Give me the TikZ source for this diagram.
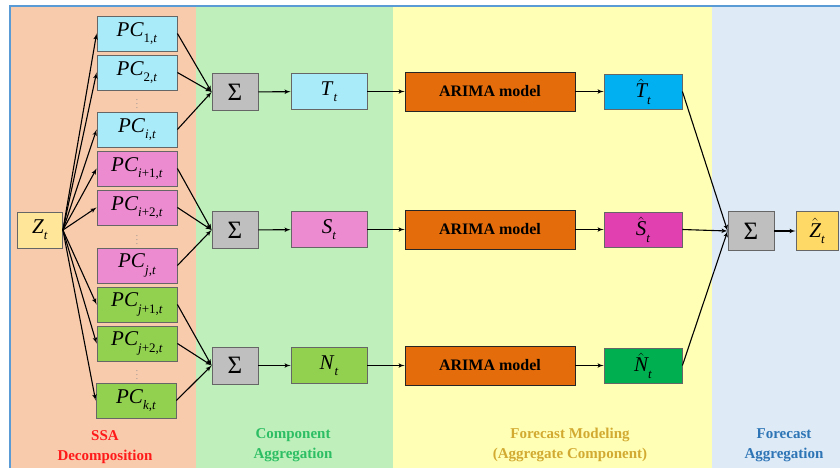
\documentclass[tikz,border=0pt]{standalone}
\usepackage{fontspec}
\setmainfont{Liberation Serif}
\usetikzlibrary{arrows}

\definecolor{ssabg}{HTML}{F8CBAD}
\definecolor{aggbg}{HTML}{BFF0BB}
\definecolor{fcbg}{HTML}{FFFFB5}
\definecolor{fabg}{HTML}{DEEAF6}
\definecolor{framecol}{HTML}{5B9BD5}
\definecolor{zcol}{HTML}{FFE699}
\definecolor{zhatcol}{HTML}{FFD966}
\definecolor{trendcol}{HTML}{AAEBFA}
\definecolor{seascol}{HTML}{EC8BD0}
\definecolor{noisecol}{HTML}{92D050}
\definecolor{sumcol}{HTML}{BFBFBF}
\definecolor{arimacol}{HTML}{E46C0A}
\definecolor{thatcol}{HTML}{00B0F0}
\definecolor{shatcol}{HTML}{E040B0}
\definecolor{nhatcol}{HTML}{00B050}
\definecolor{ssatext}{HTML}{FF1A1A}
\definecolor{aggtext}{HTML}{2DBE64}
\definecolor{fctext}{HTML}{D2AA32}
\definecolor{fatext}{HTML}{2E75B6}

% italic symbol with subscript, set in the text font
\newcommand{\symb}[2]{\textit{#1}\raisebox{-0.3em}{\fontsize{13}{13}\selectfont #2}}
\newcommand{\hatsymb}[2]{$\hat{\mbox{\itshape #1}}$\raisebox{-0.3em}{\fontsize{13}{13}\selectfont\itshape #2}}

\begin{document}
\begin{tikzpicture}[x=1pt,y=-1pt]

\tikzset{box/.style = {draw=black!60, line width=0.8pt, minimum height=35pt, inner sep=0pt, font=\fontsize{21}{21}\selectfont}}
\tikzset{pcbox/.style = {box, minimum width=80pt}}
\tikzset{sumbox/.style = {box, fill=sumcol, minimum width=46pt, minimum height=37pt, font=\fontsize{25}{25}\selectfont}}
\tikzset{compbox/.style = {box, minimum width=76pt, minimum height=36pt}}
\tikzset{arimabox/.style = {box, draw=black!85, fill=arimacol, minimum width=170pt, minimum height=39pt, font=\fontsize{16}{16}\selectfont\bfseries}}
\tikzset{hatbox/.style = {box, minimum width=78pt}}
\tikzset{vdots/.style = {text=black!45, inner sep=0pt, font=\fontsize{9}{9}\selectfont}}
\tikzset{phase/.style = {align=center, font=\fontsize{15}{20}\selectfont\bfseries}}
\tikzset{edge/.style = {->,> = latex', line width=1.1pt}}

\useasboundingbox (0,0) rectangle (840,468);

%panels
\fill[ssabg] (10,7) rectangle (196,468);
\fill[aggbg] (196,7) rectangle (393,468);
\fill[fcbg] (393,7) rectangle (712,468);
\fill[fabg] (712,7) rectangle (840,468);
\draw[framecol, line width=2pt] (10,468) -- (10,6) -- (840,6);

%SSA decomposition
\node[box, fill=zcol, minimum width=45pt, minimum height=36pt] (z) at (40,230) {\symb{Z}{\textit{t}}};
\node[pcbox, fill=trendcol] (pc1) at (137,33.5) {\symb{PC}{1,\textit{t}}};
\node[pcbox, fill=trendcol] (pc2) at (137,72.5) {\symb{PC}{2,\textit{t}}};
\node[vdots] (dots1) at (137,101) {$\vdots$};
\node[pcbox, fill=trendcol] (pci) at (137,129.5) {\symb{PC}{\textit{i},\textit{t}}};
\node[pcbox, fill=seascol] (pci1) at (137,168.5) {\symb{PC}{\textit{i}+1,\textit{t}}};
\node[pcbox, fill=seascol] (pci2) at (137,207.5) {\symb{PC}{\textit{i}+2,\textit{t}}};
\node[vdots] (dots2) at (137,237) {$\vdots$};
\node[pcbox, fill=seascol] (pcj) at (137,265.5) {\symb{PC}{\textit{j},\textit{t}}};
\node[pcbox, fill=noisecol] (pcj1) at (137,304.5) {\symb{PC}{\textit{j}+1,\textit{t}}};
\node[pcbox, fill=noisecol] (pcj2) at (137,343.5) {\symb{PC}{\textit{j}+2,\textit{t}}};
\node[vdots] (dots3) at (137,372) {$\vdots$};
\node[pcbox, fill=noisecol] (pck) at (136,400.5) {\symb{PC}{\textit{k},\textit{t}}};

\draw [edge] (z.east) -- (pc1.west);
\draw [edge] (z.east) -- (pc2.west);
\draw [edge] (z.east) -- (pci.west);
\draw [edge] (z.east) -- (pci1.west);
\draw [edge] (z.east) -- (pci2.west);
\draw [edge] (z.east) -- (pcj1.west);
\draw [edge] (z.east) -- (pcj2.west);
\draw [edge] (z.east) -- (pck.west);

%component aggregation
\node[sumbox] (sum1) at (235,92) {Σ};
\node[sumbox] (sum2) at (235,230) {Σ};
\node[sumbox] (sum3) at (235,365.5) {Σ};
\node[compbox, fill=trendcol] (trend) at (329,91.5) {\symb{T}{\textit{t}}};
\node[compbox, fill=seascol] (seas) at (329,229.5) {\symb{S}{\textit{t}}};
\node[compbox, fill=noisecol] (noise) at (329,365.5) {\symb{N}{\textit{t}}};

\draw [edge] (pc1.east) -- (sum1.west);
\draw [edge] (pc2.east) -- (sum1.west);
\draw [edge] (pci.east) -- (sum1.west);
\draw [edge] (pci1.east) -- (sum2.west);
\draw [edge] (pci2.east) -- (sum2.west);
\draw [edge] (pcj.east) -- (sum2.west);
\draw [edge] (pcj1.east) -- (sum3.west);
\draw [edge] (pcj2.east) -- (sum3.west);
\draw [edge] (pck.east) -- (sum3.west);
\draw [edge] (sum1) -- (trend);
\draw [edge] (sum2) -- (seas);
\draw [edge] (sum3) -- (noise);

%forecast modeling
\node[arimabox] (arima1) at (490,91.5) {ARIMA model};
\node[arimabox] (arima2) at (490,229.5) {ARIMA model};
\node[arimabox] (arima3) at (490,365.5) {ARIMA model};
\node[hatbox, fill=thatcol] (that) at (643,91.5) {\hatsymb{T}{t}};
\node[hatbox, fill=shatcol] (shat) at (643,229.5) {\hatsymb{S}{t}};
\node[hatbox, fill=nhatcol] (nhat) at (643,365.5) {\hatsymb{N}{t}};

\draw [edge] (trend) -- (arima1);
\draw [edge] (seas) -- (arima2);
\draw [edge] (noise) -- (arima3);
\draw [edge] (arima1) -- (that);
\draw [edge] (arima2) -- (shat);
\draw [edge] (arima3) -- (nhat);

%forecast aggregation
\node[sumbox, minimum height=39pt] (sum4) at (751,231) {Σ};
\node[box, fill=zhatcol, minimum width=42pt, minimum height=39pt] (zhat) at (817,231) {\hatsymb{Z}{t}};

\draw [edge] (that.east) -- (sum4.west);
\draw [edge] (shat.east) -- (sum4.west);
\draw [edge] (nhat.east) -- (sum4.west);
\draw [edge] (sum4) -- (zhat);

%phase labels
\node[phase, text=ssatext] (lssa) at (105,447) {SSA\\Decomposition};
\node[phase, text=aggtext] (lagg) at (293,445) {Component\\Aggregation};
\node[phase, text=fctext] (lfc) at (570,445) {Forecast Modeling\\(Aggregate Component)};
\node[phase, text=fatext] (lfa) at (784,445) {Forecast\\Aggregation};

\end{tikzpicture}
\end{document}
